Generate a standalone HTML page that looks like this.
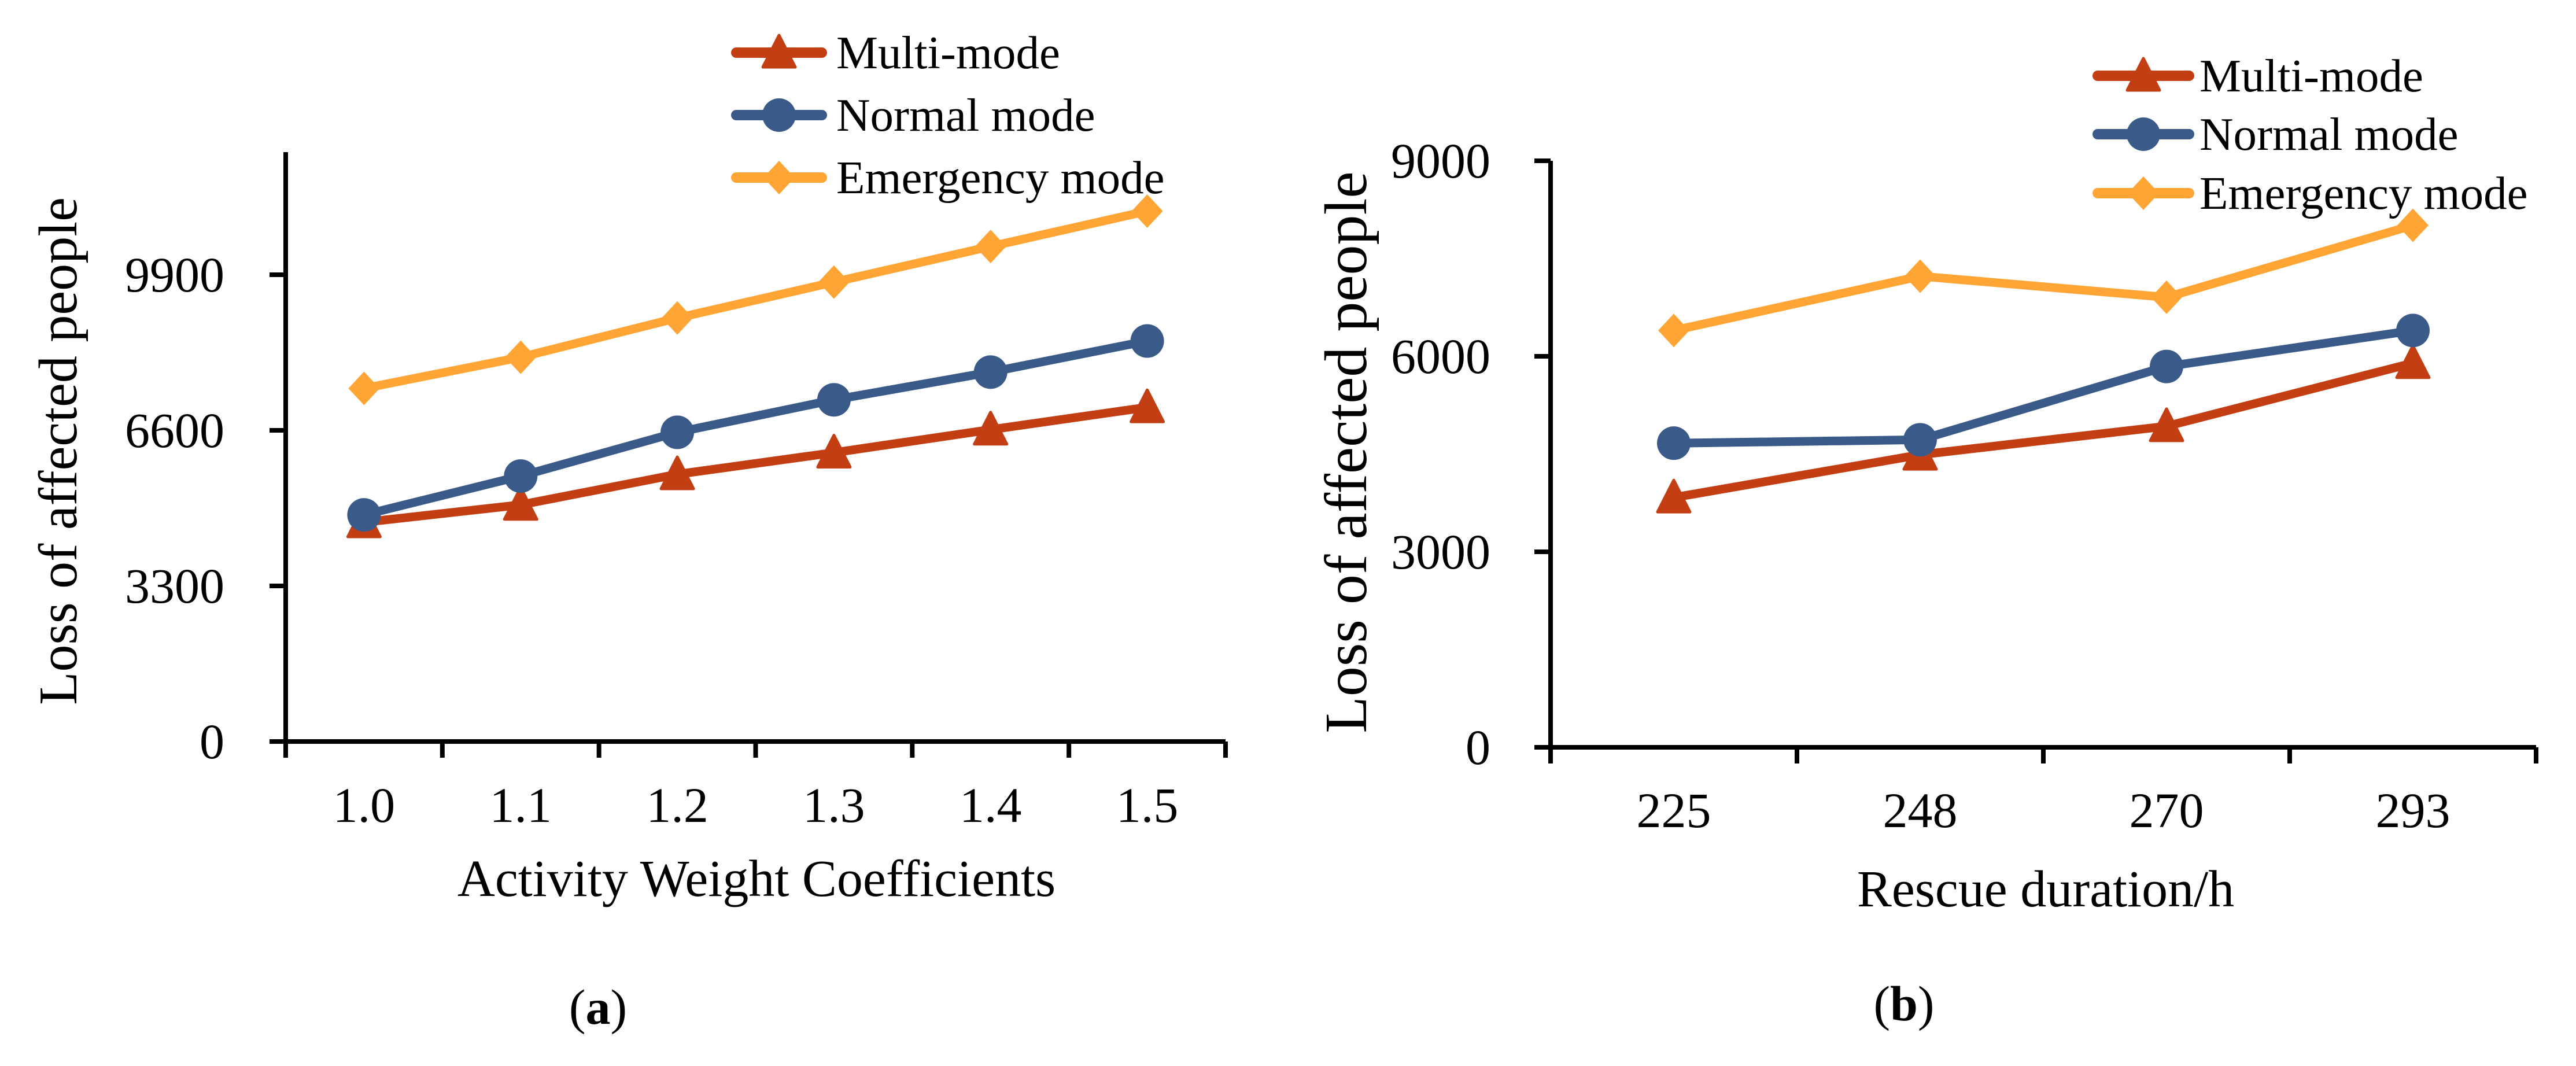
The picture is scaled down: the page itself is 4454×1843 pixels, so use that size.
<!DOCTYPE html>
<html><head><meta charset="utf-8"><style>
html,body{margin:0;padding:0;background:#fff;}
svg{display:block;}
text{font-family:"Liberation Serif",serif;fill:#000;}
</style></head><body>
<svg id="fig" width="4454" height="1843" viewBox="0 0 4454 1843" xmlns="http://www.w3.org/2000/svg"></svg>
<script>
const catsA = ["1.0","1.1","1.2","1.3","1.4","1.5"];
const multiA = [4650, 5020, 5668, 6127, 6615, 7089];
const normalA = [4807, 5630, 6558, 7247, 7835, 8495];
const emergA = [7490, 8150, 8983, 9743, 10500, 11250];
const yTicksA = [0, 3300, 6600, 9900];

const catsB = ["225","248","270","293"];
const multiB = [3833, 4490, 4927, 5896];
const normalB = [4667, 4719, 5844, 6396];
const emergB = [6396, 7229, 6906, 8010];
const yTicksB = [0, 3000, 6000, 9000];

const seriesNames = ["Multi-mode","Normal mode","Emergency mode"];
const colors = ["#C43E14","#3A5A8A","#FFA535"];
const markers = ["tri","circle","diamond"];

const NS = "http://www.w3.org/2000/svg";
const svg = document.getElementById("fig");
function mk(tag, attrs, parent){
  const e = document.createElementNS(NS, tag);
  for (const k in attrs) e.setAttribute(k, attrs[k]);
  (parent||svg).appendChild(e);
  return e;
}
function marker(g, type, x, y, color){
  let m;
  if (type === "circle") m = mk("circle", {cx:x, cy:y, r:29, fill:color}, g);
  else if (type === "diamond") m = mk("polygon", {points:`${x},${y-29} ${x+27},${y} ${x},${y+29} ${x-27},${y}`, fill:color}, g);
  else m = mk("polygon", {points:`${x},${y-30} ${x+28},${y+25} ${x-28},${y+25}`, fill:color, "stroke":color, "stroke-width":5, "stroke-linejoin":"round"}, g);
  return m;
}

function chart(cfg){
  const g = mk("g", {});
  
  
  const n = cfg.cats.length;
  const step = (cfg.x1 - cfg.x0) / n;
  const xs = i => cfg.x0 + step * (i + 0.5);
  const ys = v => cfg.base - (v / cfg.tickStep) * cfg.tickPx;
  const ya = mk("line", {x1:cfg.x0, y1:cfg.top, x2:cfg.x0, y2:cfg.base+28, stroke:"#000", "stroke-width":8}, g);
  
  
  const xa = mk("line", {x1:cfg.x0-28, y1:cfg.base, x2:cfg.x1, y2:cfg.base, stroke:"#000", "stroke-width":8}, g);
  
  
  for (let i = 1; i <= n; i++) {
    const t = mk("line", {x1:cfg.x0+step*i, y1:cfg.base, x2:cfg.x0+step*i, y2:cfg.base+28, stroke:"#000", "stroke-width":8}, g);
    
    
  }
  cfg.yticks.forEach(v => {
    const y = ys(v);
    if (v > 0) {
      const t = mk("line", {x1:cfg.x0-28, y1:y, x2:cfg.x0, y2:y, stroke:"#000", "stroke-width":8}, g);
      
      
    }
    const l = mk("text", {x:cfg.ylabX, y:y+29, "text-anchor":"end", "font-size":86}, g);
    l.textContent = v;
    
    
  });
  cfg.cats.forEach((c, i) => {
    const l = mk("text", {x:xs(i), y:cfg.xlabY, "text-anchor":"middle", "font-size":86}, g);
    l.textContent = c;
    
    
  });
  const yt = mk("text", {x:0, y:0, "text-anchor":"middle", "font-size":cfg.ytSize, transform:`translate(${cfg.ytX},${cfg.ytY}) rotate(-90)`}, g);
  yt.textContent = "Loss of affected people";
  
  
  const xt = mk("text", {x:cfg.xtX, y:cfg.xtY, "text-anchor":"middle", "font-size":90}, g);
  xt.textContent = cfg.xtitle;
  
  
  const cap = mk("text", {x:cfg.capX, y:cfg.capY, "text-anchor":"middle", "font-size":86}, g);
  cap.innerHTML = '(<tspan font-weight="bold">' + cfg.cap + '</tspan>)';
  
  
  cfg.series.forEach((vals, s) => {
    const sg = mk("g", {}, g);
    
    
    const pts = vals.map((v, i) => xs(i) + "," + ys(v)).join(" ");
    const pl = mk("polyline", {points:pts, fill:"none", stroke:colors[s], "stroke-width":15, "stroke-linejoin":"round"}, sg);
    
    
    vals.forEach((v, i) => {
      const m = marker(sg, markers[s], xs(i), ys(v), colors[s]);
      
      
    });
  });
  const lg = mk("g", {}, g);
  
  
  seriesNames.forEach((nm, s) => {
    const y = cfg.legY[s];
    const eg = mk("g", {}, lg);
    
    
    mk("line", {x1:cfg.legX0+9, y1:y, x2:cfg.legX1-9, y2:y, stroke:colors[s], "stroke-width":18, "stroke-linecap":"round"}, eg);
    marker(eg, markers[s], (cfg.legX0+cfg.legX1)/2, y, colors[s]);
    const t = mk("text", {x:cfg.legTX, y:y+27, "font-size":81}, eg);
    t.textContent = nm;
  });
}

chart({name:"chart-a", cats:catsA, series:[multiA, normalA, emergA], yticks:yTicksA,
  x0:494, x1:2119, top:263, base:1282, tickStep:3300, tickPx:269,
  ylabX:388, xlabY:1421, ytX:132, ytY:780, ytSize:94, xtX:1308, xtY:1549, xtitle:"Activity Weight Coefficients",
  capX:1034, capY:1770, cap:"a",
  legX0:1264, legX1:1430, legY:[91,199,307], legTX:1446});

chart({name:"chart-b", cats:catsB, series:[multiB, normalB, emergB], yticks:yTicksB,
  x0:2681, x1:4385, top:278, base:1292, tickStep:3000, tickPx:338,
  ylabX:2577, xlabY:1430, ytX:2362, ytY:782, ytSize:104, xtX:3537, xtY:1567, xtitle:"Rescue duration/h",
  capX:3292, capY:1764, cap:"b",
  legX0:3618, legX1:3794, legY:[131,232,334], legTX:3803});
</script>
</body></html>
